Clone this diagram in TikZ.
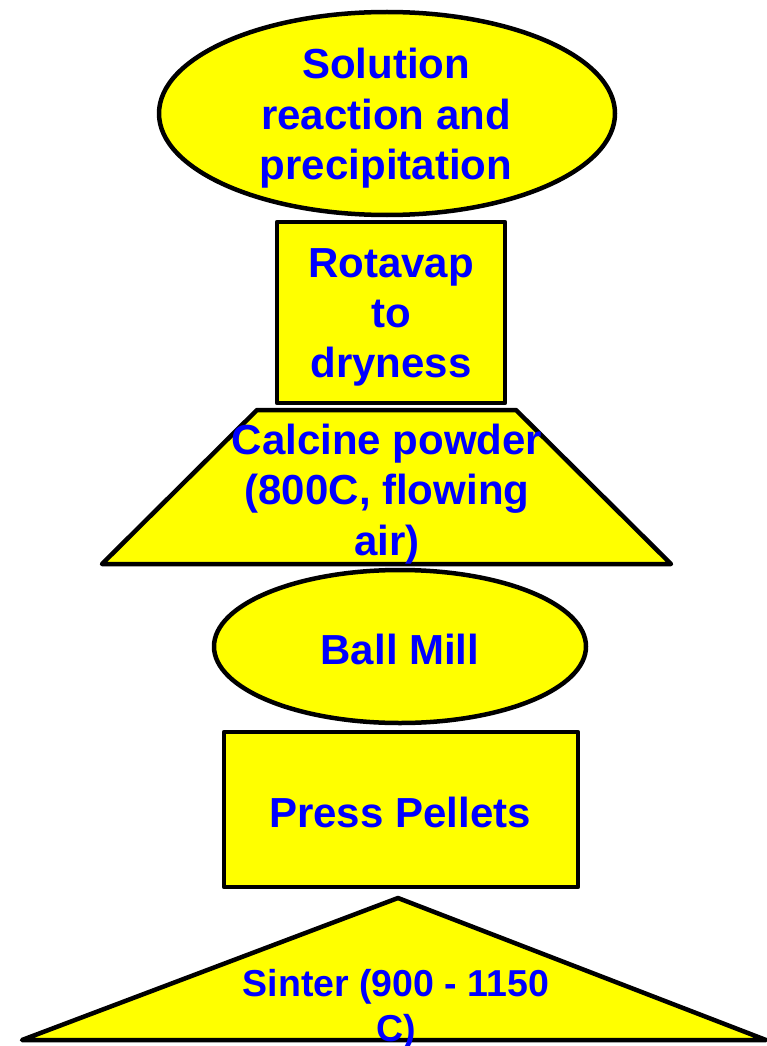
\documentclass[tikz,border=0pt]{standalone}
\usepackage{fontspec}
\setmainfont{Liberation Sans}
\usetikzlibrary{shapes.geometric}
\definecolor{fillyel}{RGB}{255,255,0}
\definecolor{txtblue}{RGB}{0,0,255}
\tikzset{
  shapebox/.style={draw=black, line width=4.5pt, fill=fillyel, line join=round},
  label42/.style={text=txtblue, font=\bfseries\fontsize{42}{50.4}\selectfont, align=center, inner sep=0pt},
  label37/.style={text=txtblue, font=\bfseries\fontsize{37.5}{45}\selectfont, align=center, inner sep=0pt},
}
\begin{document}
\begin{tikzpicture}[x=1pt, y=-1pt]
\useasboundingbox (0,0) rectangle (766,1046);
% 1 ellipse
\node[shapebox, ellipse, minimum width=456pt, minimum height=203pt, inner sep=0pt] (e1) at (387,113.5) {};
\node[label42] (t1) at (386,118.5) {Solution\\reaction and\\precipitation};
% 2 rectangle
\node[shapebox, rectangle, minimum width=228pt, minimum height=181pt, inner sep=0pt] (r1) at (391,312.5) {};
\node[label42] (t2) at (391,317.5) {Rotavap\\to\\dryness};
% 3 trapezoid
\coordinate (q1) at (257,410);
\coordinate (q2) at (516,410);
\coordinate (q3) at (671,564);
\coordinate (q4) at (102,564);
\path[shapebox] (q1) -- (q2) -- (q3) -- (q4) -- cycle;
\node[label42] (t3) at (387,494) {Calcine powder\\(800C, flowing\\air)};
% 4 ellipse
\node[shapebox, ellipse, minimum width=372pt, minimum height=153pt, inner sep=0pt] (e2) at (400,646.5) {};
\node[label42] (t4) at (400,649) {Ball Mill};
% 5 rectangle
\node[shapebox, rectangle, minimum width=354pt, minimum height=155pt, inner sep=0pt] (r2) at (401,809.5) {};
\node[label42] (t5) at (400,812) {Press Pellets};
% 6 triangle
\coordinate (p1) at (398,898);
\coordinate (p2) at (766,1040);
\coordinate (p3) at (22,1040);
\path[shapebox] (p1) -- (p2) -- (p3) -- cycle;
\node[label37] (t6) at (396,1009) {Sinter (900 - 1150\\C)};
\end{tikzpicture}
\end{document}
